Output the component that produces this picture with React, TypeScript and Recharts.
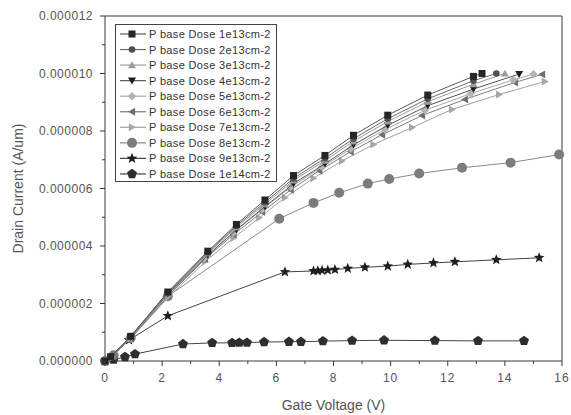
import { ScatterChart, Scatter, XAxis, YAxis, Legend } from 'recharts'

// drain current values are in units of 1e-6 A/um
const X_1E13 = [0, 0.2, 0.9, 2.2, 3.6, 4.6, 5.6, 6.6, 7.7, 8.7, 9.9, 11.3, 12.9, 13.2]
const Y_1E13 = [0, 0.15, 0.86, 2.4, 3.82, 4.75, 5.6, 6.45, 7.15, 7.85, 8.55, 9.25, 9.9, 10.0]
const X_2E13 = [0, 0.2, 0.9, 2.2, 3.6, 4.6, 5.6, 6.6, 7.7, 8.7, 9.9, 11.3, 12.9, 13.7]
const Y_2E13 = [0, 0.15, 0.85, 2.38, 3.78, 4.7, 5.52, 6.35, 7.05, 7.73, 8.43, 9.12, 9.75, 10.0]
const X_3E13 = [0, 0.2, 0.9, 2.2, 3.6, 4.6, 5.6, 6.6, 7.7, 8.7, 9.9, 11.3, 12.9, 14.0]
const Y_3E13 = [0, 0.15, 0.84, 2.36, 3.74, 4.65, 5.46, 6.28, 6.97, 7.64, 8.33, 9.02, 9.63, 10.0]
const X_4E13 = [0, 0.2, 0.9, 2.2, 3.6, 4.6, 5.6, 6.6, 7.7, 8.7, 9.9, 11.3, 12.9, 14.5]
const Y_4E13 = [0, 0.14, 0.83, 2.33, 3.68, 4.57, 5.37, 6.17, 6.86, 7.52, 8.2, 8.88, 9.46, 9.98]
const X_5E13 = [0, 0.2, 0.9, 2.2, 3.5, 4.5, 5.5, 6.5, 7.6, 8.6, 9.8, 11.2, 12.8, 14.3, 15.0]
const Y_5E13 = [0, 0.14, 0.82, 2.29, 3.6, 4.47, 5.27, 6.05, 6.75, 7.38, 8.05, 8.72, 9.3, 9.78, 9.98]
const X_6E13 = [0, 0.2, 0.9, 2.2, 3.5, 4.5, 5.5, 6.5, 7.5, 8.6, 9.7, 11.1, 12.6, 14.35, 15.3]
const Y_6E13 = [0, 0.14, 0.8, 2.25, 3.55, 4.4, 5.18, 5.95, 6.62, 7.28, 7.87, 8.54, 9.1, 9.69, 9.97]
const X_7E13 = [0, 0.2, 0.9, 2.2, 3.5, 4.5, 5.4, 6.3, 7.3, 8.3, 9.4, 10.75, 12.15, 13.8, 15.4]
const Y_7E13 = [0, 0.13, 0.78, 2.2, 3.45, 4.28, 4.98, 5.68, 6.36, 6.96, 7.53, 8.12, 8.75, 9.27, 9.72]
const X_8E13 = [0, 0.3, 0.9, 2.2, 6.1, 7.3, 8.2, 9.2, 9.95, 11.0, 12.5, 14.2, 15.9]
const Y_8E13 = [0, 0.2, 0.8, 2.25, 4.95, 5.5, 5.85, 6.17, 6.33, 6.52, 6.72, 6.9, 7.18]
const X_9E13 = [0, 0.2, 0.84, 2.2, 6.3, 7.3, 7.45, 7.6, 7.8, 8.05, 8.5, 9.1, 9.9, 10.6, 11.5, 12.25, 13.7, 15.2]
const Y_9E13 = [0, 0.1, 0.73, 1.57, 3.1, 3.13, 3.14, 3.15, 3.16, 3.18, 3.22, 3.26, 3.3, 3.36, 3.41, 3.45, 3.52, 3.59]
const X_1E14 = [0, 0.3, 0.7, 1.05, 2.73, 3.75, 4.45, 4.7, 4.97, 5.57, 6.44, 6.86, 7.63, 8.65, 9.77, 11.55, 13.06, 14.67]
const Y_1E14 = [0, 0.05, 0.14, 0.24, 0.59, 0.63, 0.63, 0.64, 0.64, 0.66, 0.67, 0.67, 0.69, 0.71, 0.72, 0.71, 0.7, 0.7]

const X_TICKS = [0, 1, 2, 3, 4, 5, 6, 7, 8, 9, 10, 11, 12, 13, 14, 15, 16]
const Y_TICKS = [0, 1, 2, 3, 4, 5, 6, 7, 8, 9, 10, 11, 12]

const FONT = '"Liberation Sans", Arial, sans-serif'
const AXIS = '#3a3a3a'
const LABEL = '#555'

type Kind = 'square' | 'circle' | 'up' | 'down' | 'diamond' | 'left' | 'right' | 'bigCircle' | 'star' | 'pentagon'

const SERIES: { name: string; x: number[]; y: number[]; kind: Kind; color: string; line: string }[] = [
  { name: 'P base Dose 1e13cm-2', x: X_1E13, y: Y_1E13, kind: 'square', color: '#262626', line: '#5a5a5a' },
  { name: 'P base Dose 2e13cm-2', x: X_2E13, y: Y_2E13, kind: 'circle', color: '#505050', line: '#6a6a6a' },
  { name: 'P base Dose 3e13cm-2', x: X_3E13, y: Y_3E13, kind: 'up', color: '#9c9c9c', line: '#9a9a9a' },
  { name: 'P base Dose 4e13cm-2', x: X_4E13, y: Y_4E13, kind: 'down', color: '#1c1c1c', line: '#555555' },
  { name: 'P base Dose 5e13cm-2', x: X_5E13, y: Y_5E13, kind: 'diamond', color: '#b4b4b4', line: '#a8a8a8' },
  { name: 'P base Dose 6e13cm-2', x: X_6E13, y: Y_6E13, kind: 'left', color: '#6e6e6e', line: '#7c7c7c' },
  { name: 'P base Dose 7e13cm-2', x: X_7E13, y: Y_7E13, kind: 'right', color: '#a6a6a6', line: '#a0a0a0' },
  { name: 'P base Dose 8e13cm-2', x: X_8E13, y: Y_8E13, kind: 'bigCircle', color: '#7c7c7c', line: '#8a8a8a' },
  { name: 'P base Dose 9e13cm-2', x: X_9E13, y: Y_9E13, kind: 'star', color: '#1e1e1e', line: '#444444' },
  { name: 'P base Dose 1e14cm-2', x: X_1E14, y: Y_1E14, kind: 'pentagon', color: '#2e2e2e', line: '#444444' },
]

function ngon(cx: number, cy: number, r: number, n: number, rot: number) {
  const pts: string[] = []
  for (let i = 0; i < n; i++) {
    const a = rot + (i * 2 * Math.PI) / n
    pts.push(`${cx + r * Math.cos(a)},${cy + r * Math.sin(a)}`)
  }
  return pts.join(' ')
}

function starPoints(cx: number, cy: number, ro: number, ri: number) {
  const pts: string[] = []
  for (let i = 0; i < 10; i++) {
    const r = i % 2 === 0 ? ro : ri
    const a = -Math.PI / 2 + (i * Math.PI) / 5
    pts.push(`${cx + r * Math.cos(a)},${cy + r * Math.sin(a)}`)
  }
  return pts.join(' ')
}

function Marker({ kind, cx, cy, fill }: { kind: Kind; cx: number; cy: number; fill: string }) {
  if (cx == null || cy == null) return null
  switch (kind) {
    case 'square':
      return <rect x={cx - 3.5} y={cy - 3.5} width={7} height={7} fill={fill} />
    case 'circle':
      return <circle cx={cx} cy={cy} r={3.3} fill={fill} />
    case 'bigCircle':
      return <circle cx={cx} cy={cy} r={5} fill={fill} />
    case 'up':
      return <polygon points={ngon(cx, cy + 0.8, 4.6, 3, -Math.PI / 2)} fill={fill} />
    case 'down':
      return <polygon points={ngon(cx, cy - 0.8, 4.6, 3, Math.PI / 2)} fill={fill} />
    case 'left':
      return <polygon points={ngon(cx + 0.8, cy, 4.6, 3, Math.PI)} fill={fill} />
    case 'right':
      return <polygon points={ngon(cx - 0.8, cy, 4.6, 3, 0)} fill={fill} />
    case 'diamond':
      return <polygon points={ngon(cx, cy, 4.2, 4, 0)} fill={fill} />
    case 'star':
      return <polygon points={starPoints(cx, cy, 5.6, 2.4)} fill={fill} />
    case 'pentagon':
      return <polygon points={ngon(cx, cy, 5.2, 5, -Math.PI / 2)} fill={fill} />
  }
  return null
}

function BottomTick({ x, y, payload }: any) {
  const major = payload.value % 2 === 0
  return (
    <g>
      <line x1={x} x2={x} y1={y} y2={y + (major ? 5 : 3)} stroke={AXIS} />
      {major && (
        <text x={x} y={y + 21} textAnchor="middle" fontSize={12} fill={LABEL} fontFamily={FONT} letterSpacing={1}>
          {payload.value}
        </text>
      )}
    </g>
  )
}

function TopTick({ x, y, payload }: any) {
  const major = payload.value % 2 === 0
  return <line x1={x} x2={x} y1={y} y2={y + (major ? 5 : 3)} stroke={AXIS} />
}

function LeftTick({ x, y, payload }: any) {
  const major = payload.value % 2 === 0
  return (
    <g>
      <line x1={x - (major ? 5 : 3)} x2={x} y1={y} y2={y} stroke={AXIS} />
      {major && (
        <text x={x - 12} y={y + 4} textAnchor="end" fontSize={12} fill={LABEL} fontFamily={FONT} letterSpacing={0.5}>
          {(payload.value * 1e-6).toFixed(6)}
        </text>
      )}
    </g>
  )
}

function RightTick({ x, y, payload }: any) {
  const major = payload.value % 2 === 0
  return <line x1={x - (major ? 5 : 3)} x2={x} y1={y} y2={y} stroke={AXIS} />
}

function LegendBox() {
  return (
    <svg width={162} height={158} style={{ display: 'block' }}>
      <rect x={0.5} y={0.5} width={161} height={157} fill="#fff" stroke="#444" strokeWidth={1} />
      {SERIES.map((s, i) => {
        const cy = 10 + i * 15.55
        return (
          <g key={s.name}>
            <line x1={5} x2={31} y1={cy} y2={cy} stroke={s.line} strokeWidth={1.2} />
            <Marker kind={s.kind} cx={17} cy={cy} fill={s.color} />
            <text x={34} y={cy + 4} fontSize={11} fill="#333" fontFamily={FONT} letterSpacing={0.35}>
              {s.name}
            </text>
          </g>
        )
      })}
    </svg>
  )
}

export default function App() {
  return (
    <div style={{ position: 'absolute', left: 0, top: 0, background: '#fff' }}>
      <ScatterChart width={571} height={415} margin={{ top: 15, right: 8, bottom: 0, left: 0 }}>
        <XAxis
          xAxisId="bottom"
          type="number"
          dataKey="x"
          domain={[0, 16]}
          ticks={X_TICKS}
          interval={0}
          height={54}
          tickSize={0}
          tickMargin={0}
          tick={<BottomTick />}
          axisLine={{ stroke: AXIS }}
          label={{ value: 'Gate Voltage (V)', position: 'insideBottom', offset: 5, fontSize: 14, fill: '#555', fontFamily: FONT }}
        />
        <XAxis
          xAxisId="top"
          orientation="top"
          type="number"
          domain={[0, 16]}
          ticks={X_TICKS}
          interval={0}
          height={1}
          tickSize={0}
          tickMargin={0}
          tick={<TopTick />}
          axisLine={{ stroke: AXIS }}
        />
        <YAxis
          yAxisId="left"
          type="number"
          dataKey="y"
          domain={[0, 12]}
          ticks={Y_TICKS}
          interval={0}
          width={105}
          tickSize={0}
          tickMargin={0}
          tick={<LeftTick />}
          axisLine={{ stroke: AXIS }}
          label={{
            content: ({ viewBox }: any) => {
              const cx = viewBox.x + 18
              const cy = viewBox.y + viewBox.height / 2
              return (
                <text x={cx} y={cy} transform={`rotate(-90 ${cx} ${cy})`} textAnchor="middle" dominantBaseline="central" fontSize={14} fill="#555" fontFamily={FONT}>
                  Drain Current (A/um)
                </text>
              )
            },
          }}
        />
        <YAxis
          yAxisId="right"
          orientation="right"
          type="number"
          domain={[0, 12]}
          ticks={Y_TICKS}
          interval={0}
          width={1}
          tickSize={0}
          tickMargin={0}
          tick={<RightTick />}
          axisLine={{ stroke: AXIS }}
        />
        {[...SERIES].reverse().map((s) => (
          <Scatter
            key={s.name}
            name={s.name}
            xAxisId="bottom"
            yAxisId="left"
            data={s.x.map((x, i) => ({ x, y: s.y[i] }))}
            line={{ stroke: s.line, strokeWidth: 1 }}
            lineType="joint"
            shape={(p: any) => <Marker kind={s.kind} cx={p.cx} cy={p.cy} fill={s.color} />}
            isAnimationActive={false}
          />
        ))}
        <Legend
          layout="vertical"
          align="center"
          verticalAlign="middle"
          content={() => <LegendBox />}
          wrapperStyle={{ position: 'absolute', left: 115, top: 24, width: 162, height: 158 }}
        />
      </ScatterChart>
    </div>
  )
}
